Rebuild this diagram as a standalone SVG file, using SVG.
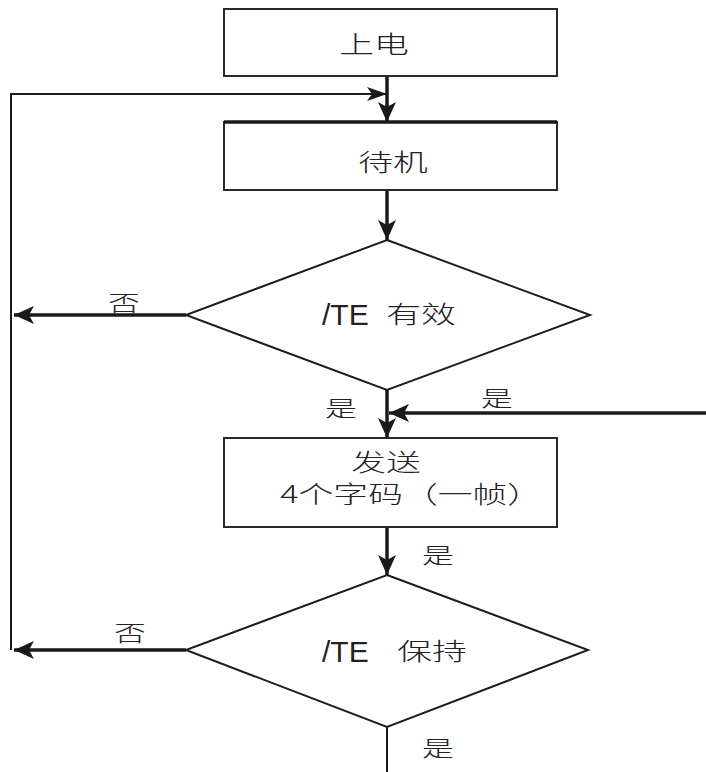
<svg xmlns="http://www.w3.org/2000/svg" width="706" height="772" viewBox="0 0 706 772">
<style>
.box{fill:#fff;stroke:#2a2a2a;stroke-width:2}
.dia{fill:#fff;stroke:#1e1e1e;stroke-width:2}
.cjk{font-family:"Noto Sans CJK SC","Noto Sans",sans-serif;font-weight:300;fill:#222;text-anchor:middle}
.t24{font-size:24px}
.t22{font-size:22px}
.lat{font-family:"Liberation Sans",Arial,sans-serif;font-size:30px;fill:#222}
.thick{stroke:#1a1a1a;stroke-width:3.5;fill:none}
.thin{stroke:#1a1a1a;stroke-width:2;fill:none}
</style>
<defs>
<marker id="ah" markerUnits="userSpaceOnUse" viewBox="0 0 20 18" refX="20" refY="9" markerWidth="20" markerHeight="18" orient="auto">
<path d="M0,0 L20,9 L0,18 L5,9 Z" fill="#1a1a1a"/>
</marker>
<marker id="ahs" markerUnits="userSpaceOnUse" viewBox="0 0 20 14" refX="20" refY="7" markerWidth="20" markerHeight="14" orient="auto">
<path d="M0,0 L20,7 L0,14 L5,7 Z" fill="#1a1a1a"/>
</marker>
</defs>
<g id="connectors">
<line class="thick" x1="387" y1="76" x2="387" y2="122" marker-end="url(#ah)"/>
<polyline class="thin" points="11,650 11,94 387,94" marker-end="url(#ahs)"/>
<line class="thick" x1="387" y1="190" x2="387" y2="240" marker-end="url(#ah)"/>
<line class="thick" x1="186" y1="315" x2="14" y2="315" marker-end="url(#ah)"/>
<line class="thick" x1="387" y1="390" x2="387" y2="438" marker-end="url(#ah)"/>
<line class="thick" x1="706" y1="413" x2="389" y2="413" marker-end="url(#ah)"/>
<line class="thick" x1="387" y1="527" x2="387" y2="575" marker-end="url(#ah)"/>
<line class="thick" x1="186" y1="650" x2="14" y2="650" marker-end="url(#ah)"/>
<line class="thin" x1="387" y1="727" x2="387" y2="772"/>
<text class="cjk t22" transform="translate(124,311) scale(1.45,1)">否</text>
<text class="cjk t22" transform="translate(341,416) scale(1.45,1)">是</text>
<text class="cjk t22" transform="translate(497,406) scale(1.45,1)">是</text>
<text class="cjk t22" transform="translate(438,563) scale(1.45,1)">是</text>
<text class="cjk t22" transform="translate(130,641) scale(1.45,1)">否</text>
<text class="cjk t22" transform="translate(438,756) scale(1.45,1)">是</text>
</g>
<g id="power-on">
<rect class="box" x="224" y="9" width="333" height="67"/>
<text class="cjk t24" transform="translate(374,53) scale(1.45,1)">上电</text>
</g>
<g id="standby">
<rect class="box" x="224" y="122" width="333" height="68"/>
<line x1="224" y1="122" x2="557" y2="122" stroke="#1a1a1a" stroke-width="3.5"/>
<text class="cjk t24" transform="translate(393,171) scale(1.45,1)">待机</text>
</g>
<g id="te-valid">
<polygon class="dia" points="387,240 590,315 387,390 186,315"/>
<text class="lat" x="322" y="325">/TE</text>
<text class="cjk t24" transform="translate(421,323) scale(1.45,1)">有效</text>
</g>
<g id="send-frame">
<rect class="box" x="224" y="438" width="333" height="89"/>
<text class="cjk t24" transform="translate(386,471) scale(1.45,1)">发送</text>
<text class="cjk t24" transform="translate(411,503) scale(1.45,1)">4个字码（一帧）</text>
</g>
<g id="te-hold">
<polygon class="dia" points="387,575 588,650 387,727 186,650"/>
<text class="lat" x="322" y="662">/TE</text>
<text class="cjk t24" transform="translate(432,660) scale(1.45,1)">保持</text>
</g>
</svg>
